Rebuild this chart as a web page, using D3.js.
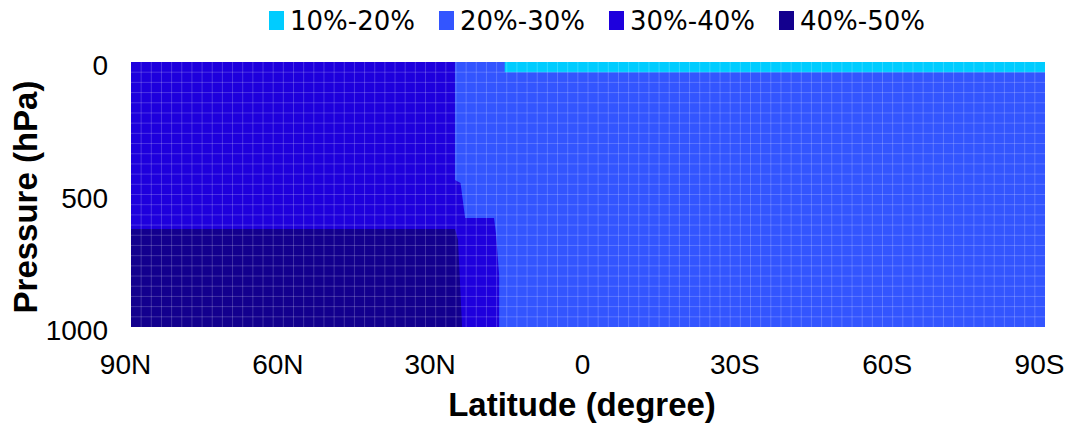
<!DOCTYPE html>
<html>
<head>
<meta charset="utf-8">
<script src="https://cdn.jsdelivr.net/npm/d3@7"></script>
<style>
  body { margin: 0; background: #fff; }
  svg { display: block; }
</style>
</head>
<body>
<script>
var W = 1071, H = 431;

// legend classes
var classes = ["10%-20%", "20%-30%", "30%-40%", "40%-50%"];
var classColors = ["#00ccff", "#3355ff", "#1e00dd", "#13008e"];

// axis ticks
var latTicks = [90, 60, 30, 0, -30, -60, -90];
var latLabels = ["90N", "60N", "30N", "0", "30S", "60S", "90S"];
var presTicks = [0, 500, 1000];

// model grid (2 degree columns, 26 pressure rows)
var latGrid = d3.range(90, -90.01, -2);
var presGrid = d3.range(0, 1000.01, 1000 / 26);

// region outlines [lat, hPa]
var region20 = [[90, 0], [-90, 0], [-90, 1000], [90, 1000]];
var region10 = [[16.4, 0], [-90, 0], [-90, 38.5], [16.4, 38.5]];
var region30 = [[90, 0], [26.2, 0], [26.2, 445], [25.1, 457], [24.2, 589], [18.5, 589],
                [18.1, 653], [17.5, 804], [17.5, 1000], [90, 1000]];
var region40 = [[90, 630], [26.2, 630], [25.6, 672], [24.8, 1000], [90, 1000]];

var regions = [
  {cls: 1, pts: region20},
  {cls: 0, pts: region10},
  {cls: 2, pts: region30},
  {cls: 3, pts: region40}
];

var svg = d3.select("body").append("svg").attr("width", W).attr("height", H);

var x = d3.scaleLinear().domain([90, -90]).range([131, 1045]);
var y = d3.scaleLinear().domain([0, 1000]).range([62, 327]);

var line = d3.line().x(function(d) { return x(d[0]); }).y(function(d) { return y(d[1]); });

var plot = svg.append("g");
plot.selectAll("path.region")
    .data(regions)
    .enter().append("path")
    .attr("class", "region")
    .attr("d", function(d) { return line(d.pts) + "Z"; })
    .attr("fill", function(d) { return classColors[d.cls]; });

// faint mesh
plot.selectAll("line.vg")
    .data(latGrid.slice(1, -1))
    .enter().append("line")
    .attr("x1", function(d) { return x(d); }).attr("x2", function(d) { return x(d); })
    .attr("y1", y(0)).attr("y2", y(1000))
    .attr("stroke", "#fff").attr("stroke-opacity", 0.2).attr("stroke-width", 1);
plot.selectAll("line.hg")
    .data(presGrid.slice(1, -1))
    .enter().append("line")
    .attr("y1", function(d) { return y(d); }).attr("y2", function(d) { return y(d); })
    .attr("x1", x(90)).attr("x2", x(-90))
    .attr("stroke", "#fff").attr("stroke-opacity", 0.2).attr("stroke-width", 1);

// axes (no lines, labels only)
var xAxis = d3.axisBottom(x).tickValues(latTicks)
    .tickFormat(function(d, i) { return latLabels[i]; }).tickSize(0).tickPadding(0);
var gx = svg.append("g").attr("transform", "translate(-6," + 374 + ")").call(xAxis);
gx.select(".domain").remove();
gx.selectAll("text").attr("dy", 0)
    .style("font-family", "Arial, 'Liberation Sans', sans-serif")
    .style("font-size", "28px").attr("fill", "#000");

var yAxis = d3.axisLeft(y).tickValues(presTicks).tickFormat(d3.format("d"))
    .tickSize(0).tickPadding(23);
var gy = svg.append("g").attr("transform", "translate(" + 131 + ",4)").call(yAxis);
gy.select(".domain").remove();
gy.selectAll("text")
    .style("font-family", "Arial, 'Liberation Sans', sans-serif")
    .style("font-size", "28px").attr("fill", "#000");

// axis titles
svg.append("text")
    .attr("x", 582).attr("y", 416)
    .attr("text-anchor", "middle")
    .style("font-family", "Arial, 'Liberation Sans', sans-serif")
    .style("font-weight", "bold").style("font-size", "33px")
    .text("Latitude (degree)");

svg.append("text")
    .attr("transform", "translate(37,197) rotate(-90)")
    .attr("text-anchor", "middle")
    .style("font-family", "Arial, 'Liberation Sans', sans-serif")
    .style("font-weight", "bold").style("font-size", "33px")
    .text("Pressure (hPa)");

// legend
var legend = svg.append("g").selectAll("g")
    .data(classes)
    .enter().append("g")
    .attr("transform", function(d, i) { return "translate(" + (269 + i * 170) + ",11)"; });
legend.append("rect")
    .attr("width", 15).attr("height", 19)
    .attr("fill", function(d, i) { return classColors[i]; });
legend.append("text")
    .attr("x", 21).attr("y", 19)
    .style("font-family", "'DejaVu Sans', Verdana, sans-serif")
    .style("font-size", "26px")
    .text(function(d) { return d; });
</script>
</body>
</html>
